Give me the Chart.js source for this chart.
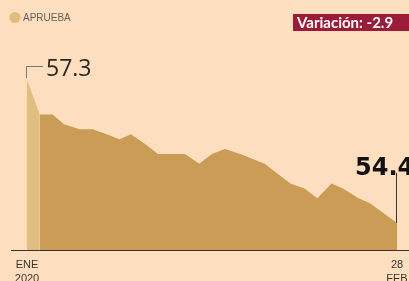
<!DOCTYPE html>
<html>
<head>
<meta charset="utf-8">
<script src="https://cdn.jsdelivr.net/npm/chart.js@4"></script>
<style>
  html, body { margin: 0; padding: 0; background: #fddfbf; }
  #wrap { position: relative; width: 409px; height: 281px; overflow: hidden; }
</style>
</head>
<body>
<div id="wrap"><canvas id="grafica" width="409" height="281"></canvas></div>
<script>
// meses desde ENE 2020 (aprox) y aprobacion en %
const meses = [0, 0.9, 1.8, 2.6, 3.7, 4.6, 5.6, 6.5, 7.3, 8.3, 9.2, 11.1, 12.1, 13.0, 13.9, 15.0, 16.7, 18.5, 19.5, 20.4, 21.4, 22.2, 23.3, 24.1, 26.0];
const aprueba = [57.3, 56.6, 56.6, 56.4, 56.3, 56.3, 56.2, 56.1, 56.2, 56.0, 55.8, 55.8, 55.6, 55.8, 55.9, 55.8, 55.6, 55.2, 55.1, 54.9, 55.2, 55.1, 54.9, 54.8, 54.4];
const etiquetasX = [['ENE', '2020'], ['28', 'FEB']];
const leyenda = 'APRUEBA';
const variacion = 'Variación: -2.9';

const puntos = meses.map((m, i) => ({ x: m, y: aprueba[i] }));

const anotaciones = {
    id: 'anotaciones',
    afterDraw(chart) {
        const ctx = chart.ctx;
        const xs = chart.scales.x, ys = chart.scales.y;
        const base = chart.chartArea.bottom;
        ctx.save();

        // linea base
        ctx.strokeStyle = '#3a3430';
        ctx.lineWidth = 1;
        ctx.beginPath();
        ctx.moveTo(11, base + 0.5);
        ctx.lineTo(409, base + 0.5);
        ctx.stroke();

        // etiquetas del eje
        ctx.fillStyle = '#3a3430';
        ctx.font = '11px "Liberation Sans Narrow", "Liberation Sans", sans-serif';
        ctx.textAlign = 'center';
        ctx.textBaseline = 'middle';
        const extremos = [meses[0], meses[meses.length - 1]];
        extremos.forEach((m, i) => {
            const px = xs.getPixelForValue(m);
            ctx.fillText(etiquetasX[i][0], px, base + 15);
            ctx.fillText(etiquetasX[i][1], px, base + 29);
        });

        // valor inicial
        const x0 = xs.getPixelForValue(meses[0]);
        const y0 = ys.getPixelForValue(aprueba[0]);
        ctx.strokeStyle = '#777';
        ctx.beginPath();
        ctx.moveTo(x0 - 0.5, y0 - 2);
        ctx.lineTo(x0 - 0.5, y0 - 13.5);
        ctx.lineTo(x0 + 16, y0 - 13.5);
        ctx.stroke();
        ctx.fillStyle = '#2b2622';
        ctx.font = '23px "Open Sans", sans-serif';
        ctx.textAlign = 'left';
        ctx.fillText(aprueba[0].toFixed(1), x0 + 19, y0 - 11);

        // valor final
        const n = meses.length - 1;
        const x1 = xs.getPixelForValue(meses[n]);
        const y1 = ys.getPixelForValue(aprueba[n]);
        ctx.strokeStyle = '#3a3430';
        ctx.beginPath();
        ctx.moveTo(x1 - 0.5, y1);
        ctx.lineTo(x1 - 0.5, y1 - 50);
        ctx.stroke();
        ctx.fillStyle = '#111';
        ctx.font = 'bold 24px "DejaVu Sans", sans-serif';
        ctx.fillText(aprueba[n].toFixed(1), x1 - 42, y1 - 54);

        // leyenda
        ctx.fillStyle = '#e2bd80';
        ctx.beginPath();
        ctx.arc(15, 17.5, 5.5, 0, Math.PI * 2);
        ctx.fill();
        ctx.fillStyle = '#6a5e55';
        ctx.font = '10px "Liberation Sans Narrow", "Liberation Sans", sans-serif';
        ctx.fillText(leyenda, 23, 18);

        // caja de variacion
        ctx.fillStyle = '#9a1c38';
        ctx.fillRect(293, 14, 120, 17);
        ctx.fillStyle = '#fff';
        ctx.font = 'bold 15px Lato, sans-serif';
        ctx.fillText(variacion, 297, 23);

        ctx.restore();
    }
};

new Chart(document.getElementById('grafica').getContext('2d'), {
    type: 'line',
    data: {
        datasets: [{
            data: puntos.slice(0, 2),
            backgroundColor: '#e2bd82',
            borderWidth: 0,
            pointRadius: 0,
            tension: 0,
            fill: 'start'
        }, {
            data: puntos.slice(1),
            backgroundColor: '#ca9c55',
            borderWidth: 0,
            pointRadius: 0,
            tension: 0,
            fill: 'start'
        }]
    },
    options: {
        responsive: false,
        animation: false,
        layout: { padding: { left: 27, right: 12, top: 80, bottom: 31 } },
        plugins: { legend: { display: false }, tooltip: { enabled: false } },
        scales: {
            x: { type: 'linear', min: 0, max: 26, display: false },
            y: { min: 53.85, max: 57.3, display: false }
        }
    },
    plugins: [anotaciones]
});
</script>
</body>
</html>
